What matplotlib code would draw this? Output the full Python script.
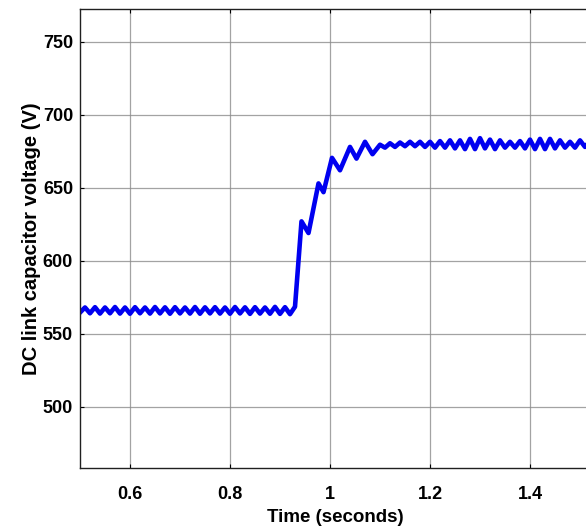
import matplotlib
matplotlib.use("Agg")
import matplotlib.pyplot as plt

# Time (s) and DC link voltage (V)
t_pre = [0.50, 0.51, 0.52, 0.53, 0.54, 0.55, 0.56, 0.57, 0.58, 0.59, 0.60,
         0.61, 0.62, 0.63, 0.64, 0.65, 0.66, 0.67, 0.68, 0.69, 0.70,
         0.71, 0.72, 0.73, 0.74, 0.75, 0.76, 0.77, 0.78, 0.79, 0.80,
         0.81, 0.82, 0.83, 0.84, 0.85, 0.86, 0.87, 0.88, 0.89, 0.90,
         0.91, 0.92, 0.93]
v_pre = [564.5, 568.0, 564.0, 568.2, 563.8, 568.0, 564.0, 568.3, 563.8, 568.0, 563.7,
         568.2, 564.0, 568.0, 563.8, 568.3, 563.9, 568.1, 563.7, 568.2, 563.9,
         568.0, 563.8, 568.3, 563.7, 568.1, 563.9, 568.2, 563.8, 568.0, 563.7,
         568.3, 563.9, 568.1, 563.6, 568.2, 563.8, 568.0, 563.7, 568.4, 563.6,
         568.2, 563.4, 568.5]

t_step = [0.943, 0.957, 0.977, 0.987, 1.004, 1.020, 1.040, 1.053, 1.070, 1.085, 1.100]
v_step = [627.0, 619.0, 653.0, 647.0, 670.5, 662.0, 678.0, 670.0, 681.5, 673.0, 679.5]

t_post = [1.11, 1.12, 1.13, 1.14, 1.15, 1.16, 1.17, 1.18, 1.19, 1.20,
          1.21, 1.22, 1.23, 1.24, 1.25, 1.26, 1.27, 1.28, 1.29, 1.30,
          1.31, 1.32, 1.33, 1.34, 1.35, 1.36, 1.37, 1.38, 1.39, 1.40,
          1.41, 1.42, 1.43, 1.44, 1.45, 1.46, 1.47, 1.48, 1.49, 1.50,
          1.51, 1.52]
v_post = [677.5, 680.5, 678.0, 681.0, 678.5, 681.5, 678.5, 681.5, 678.0, 681.5,
          677.5, 682.0, 677.5, 682.5, 677.0, 682.5, 676.5, 683.5, 676.5, 684.0,
          677.0, 683.0, 676.5, 682.5, 677.5, 681.5, 677.5, 682.0, 677.0, 683.0,
          676.5, 683.5, 676.5, 683.5, 677.0, 682.5, 677.5, 681.5, 677.5, 682.5,
          678.0, 682.0]

time = t_pre + t_step + t_post
voltage = v_pre + v_step + v_post

x_ticks = [0.6, 0.8, 1.0, 1.2, 1.4]
x_tick_labels = ["0.6", "0.8", "1", "1.2", "1.4"]
y_ticks = [500, 550, 600, 650, 700, 750]

plt.rcParams['font.family'] = ['Liberation Sans', 'DejaVu Sans']
plt.rcParams['font.weight'] = 'bold'

fig = plt.figure(figsize=(5.86, 5.27), dpi=100)
ax = fig.add_axes([80 / 586, 59 / 527, 510 / 586, 459 / 527])

ax.plot(time, voltage, color='#0000f0', linewidth=3.3, solid_joinstyle='round')

ax.set_xlim(0.5, 1.52)
ax.set_ylim(458, 772.5)
ax.set_xticks(x_ticks)
ax.set_xticklabels(x_tick_labels)
ax.set_yticks(y_ticks)

ax.grid(True, color='#8c8c8c', linewidth=0.9, alpha=0.8)
ax.set_axisbelow(True)
ax.tick_params(direction='in', length=3, width=0.8, labelsize=13, top=True, right=True)
ax.tick_params(axis='x', pad=13)
ax.tick_params(axis='y', pad=5)
for lab in ax.get_xticklabels() + ax.get_yticklabels():
    lab.set_fontweight('bold')
for s in ax.spines.values():
    s.set_linewidth(1.0)
    s.set_color('#202020')

ax.set_xlabel('Time (seconds)', fontsize=13.5, fontweight='bold', labelpad=4)
ax.set_ylabel('DC link capacitor voltage (V)', fontsize=14.5, fontweight='bold', labelpad=1)

fig.savefig('out.png', dpi=100)
